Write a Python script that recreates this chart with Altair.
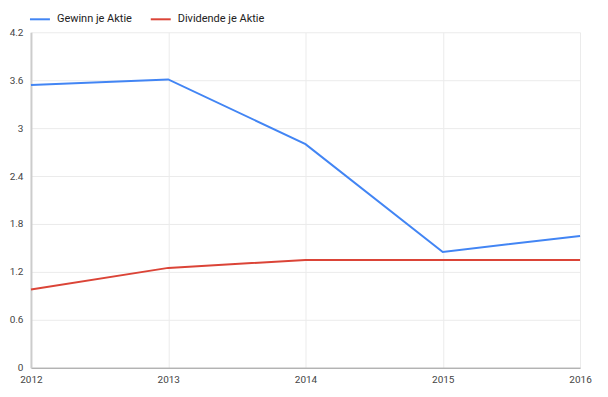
import altair as alt
import pandas as pd

years = [2012, 2013, 2014, 2015, 2016]
gewinn = [3.54, 3.61, 2.80, 1.45, 1.65]
dividende = [0.98, 1.25, 1.35, 1.35, 1.35]
series_names = ["Gewinn je Aktie", "Dividende je Aktie"]
colors = ["#4285f4", "#db4437"]
y_ticks = [0, 0.6, 1.2, 1.8, 2.4, 3, 3.6, 4.2]

rows = []
for y, g, d in zip(years, gewinn, dividende):
    rows.append({"Jahr": y, "Serie": series_names[0], "Wert": g})
    rows.append({"Jahr": y, "Serie": series_names[1], "Wert": d})
df = pd.DataFrame(rows)

chart = alt.Chart(df).mark_line(strokeWidth=2).encode(
    x=alt.X("Jahr:Q", scale=alt.Scale(domain=[2012, 2016], nice=False, zero=False),
            axis=alt.Axis(values=years, format="d", title=None, grid=True,
                          gridColor="#ebebeb", ticks=False, domainColor="#999999",
                          domainWidth=1, labelColor="#444444", labelFontSize=10,
                          labelFont="Roboto", labelPadding=7, labelFlush=False)),
    y=alt.Y("Wert:Q", scale=alt.Scale(domain=[0, 4.2], nice=False),
            axis=alt.Axis(values=y_ticks, title=None, grid=True, gridColor="#ebebeb",
                          ticks=False, domainColor="#cccccc", domainWidth=2,
                          labelColor="#444444", labelFontSize=10, labelFont="Roboto",
                          labelPadding=8, labelFlush=False,
                          labelExpr="datum.value == 0 ? '0' : format(datum.value, '.1~f')")),
    color=alt.Color("Serie:N", scale=alt.Scale(domain=series_names, range=colors),
                    sort=series_names,
                    legend=alt.Legend(title=None, orient="none", legendX=-2, legendY=-24,
                                      direction="horizontal", symbolType="stroke",
                                      symbolSize=400, symbolStrokeWidth=2,
                                      labelFont="Roboto", labelFontSize=11,
                                      labelColor="#222222", columnPadding=14,
                                      labelOffset=6)),
).properties(
    width=550, height=336,
    autosize=alt.AutoSizeParams(type="none"),
    padding={"left": 23, "top": 24, "right": 20, "bottom": 22},
).configure_view(stroke=None)

chart.save("out.html", embed_options={"renderer": "svg", "actions": False})
